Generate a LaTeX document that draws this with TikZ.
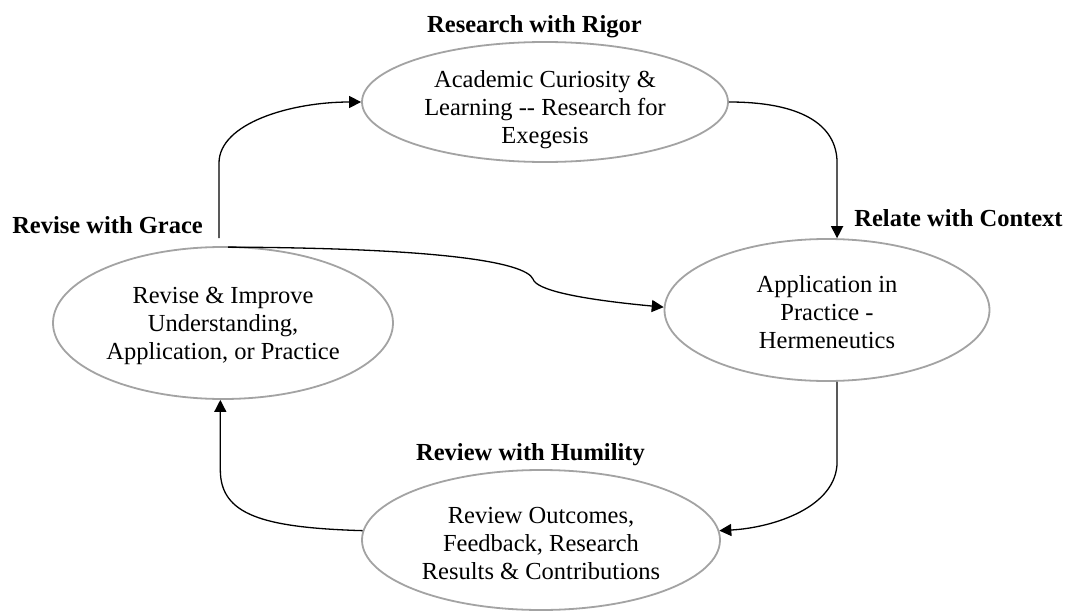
\documentclass[tikz,border=0pt]{standalone}
\usepackage{fontspec}
\setmainfont{Liberation Serif}
\usetikzlibrary{shapes.geometric,arrows.meta,calc}
\begin{document}
\begin{tikzpicture}[x=1pt,y=-1pt,
  oval/.style={ellipse,draw=black!36,line width=1.8pt,inner sep=0pt},
  ovaltext/.style={align=center,inner sep=0pt,font=\fontsize{24.5}{28}\selectfont},
  title/.style={anchor=base,font=\fontsize{24.5}{28}\selectfont\bfseries},
  conn/.style={draw=black,line width=1.3pt,-{Triangle[length=12pt,width=12pt]}}]
\useasboundingbox (0,0) rectangle (1069,613);
\fill[white] (0,0) rectangle (1069,613);
% ellipses
\node[oval,minimum width=366pt,minimum height=120pt] (top) at (545,102) {};
\node[ovaltext] (toptext) at ($(top.center)+(0,8)$)
  {Academic Curiosity \&\\Learning -{}- Research for\\Exegesis};
\node[oval,minimum width=340pt,minimum height=152pt] (left) at (223,323) {};
\node[ovaltext] (lefttext) at ($(left.center)+(0,3)$)
  {Revise \& Improve\\Understanding,\\Application, or Practice};
\node[oval,minimum width=325pt,minimum height=142pt] (right) at (827,310) {};
\node[ovaltext] (righttext) at ($(right.center)+(0,2)$)
  {Application in\\Practice -\\Hermeneutics};
\node[oval,minimum width=358pt,minimum height=140pt] (bottom) at (541,540) {};
\node[ovaltext] (bottomtext) at ($(bottom.center)+(0,4)$)
  {Review Outcomes,\\Feedback, Research\\Results \& Contributions};
% titles
\node[title] (t1) at (534.5,32) {Research with Rigor};
\node[title] (t2) at (958.5,226) {Relate with Context};
\node[title] (t3) at (107.5,233) {Revise with Grace};
\node[title] (t4) at (530.5,460) {Review with Humility};
% connectors
\coordinate (ls) at ($(left.north)+(-4,-8)$);
\draw[conn] (ls) -- ++(0,-75) .. controls +(0,-40) and +(-70,0) .. (top.west);
\draw[conn] (top.east) .. controls +(70,0) and +(0,-40) .. ($(right.82)+(0,-75)$) -- (right.82);
\draw[conn] (right.-82) -- ++(0,80) .. controls +(0,45) and +(55,-3) .. (bottom.3);
\draw[conn] (bottom.177) .. controls +(-100,-3) and +(0,45) .. ($(left.268)+(0,70)$) -- (left.268);
\coordinate (kink) at (533,279);
\coordinate (ls2) at ($(left.north)+(5,1)$);
\draw[conn] (ls2) .. controls +(212,1) and +(-8,-17) .. (kink)
  .. controls +(3,11) and +(-85,-8) .. (right.179);
\end{tikzpicture}
\end{document}
